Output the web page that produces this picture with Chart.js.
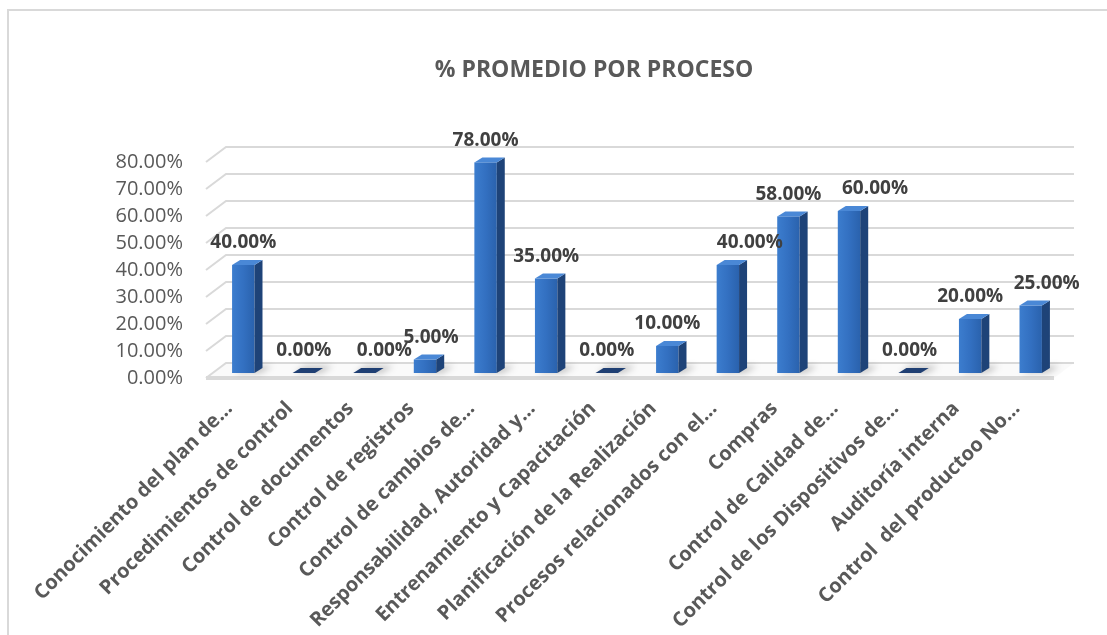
<!DOCTYPE html>
<html>
<head>
<meta charset="utf-8">
<script src="https://cdn.jsdelivr.net/npm/chart.js@4.4.1/dist/chart.umd.min.js"></script>
<style>
  html, body { margin: 0; padding: 0; background: #fff; }
  #wrap { position: relative; width: 1107px; height: 635px; }
</style>
</head>
<body>
<div id="wrap"><canvas id="chart" width="1107" height="635"></canvas></div>
<script>
const title = "% PROMEDIO POR PROCESO";

const categories = [
  "Conocimiento del plan de…",
  "Procedimientos de control",
  "Control de documentos",
  "Control de registros",
  "Control de cambios de…",
  "Responsabilidad, Autoridad y…",
  "Entrenamiento y Capacitación",
  "Planificación de la Realización",
  "Procesos relacionados con el…",
  "Compras",
  "Control de Calidad de…",
  "Control de los Dispositivos de…",
  "Auditoría interna",
  "Control  del productoo No…"
];

const values = [40, 0, 0, 5, 78, 35, 0, 10, 40, 58, 60, 0, 20, 25];

const yTicks = [0, 10, 20, 30, 40, 50, 60, 70, 80];

const pct = (v) => v.toFixed(2) + "%";

// 3d look: back wall offset and bar depth
const WALL = { dx: 13, dy: -10 };
const FRONT = { dx: -7, dy: 5 };
const BAR_DEPTH = { dx: 8, dy: -5 };
// excel moved a few labels sideways so they don't collide
const labelNudge = { 2: 20, 3: 6, 8: 22, 10: 26, 13: 16 };

const fakeThreeD = {
  id: "fakeThreeD",
  beforeDatasetsDraw(chart) {
    const { ctx, chartArea: a, scales: { y } } = chart;
    ctx.save();

    // outer frame
    ctx.strokeStyle = "#d9d9d9";
    ctx.lineWidth = 2;
    ctx.beginPath();
    ctx.moveTo(8, 640);
    ctx.lineTo(8, 10);
    ctx.lineTo(1110, 10);
    ctx.stroke();

    // title
    ctx.fillStyle = "#595959";
    ctx.font = "bold 23px 'Open Sans'";
    ctx.textAlign = "center";
    ctx.textBaseline = "middle";
    ctx.fillText(title, 594, 70);

    // wall gridlines with the little slanted side wall
    ctx.strokeStyle = "#d9d9d9";
    ctx.lineWidth = 2;
    yTicks.forEach((t) => {
      if (t === 0) return;
      const py = y.getPixelForValue(t);
      ctx.beginPath();
      ctx.moveTo(a.left + FRONT.dx, py + FRONT.dy);
      ctx.lineTo(a.left + WALL.dx, py + WALL.dy);
      ctx.lineTo(a.right + WALL.dx, py + WALL.dy);
      ctx.stroke();
    });

    // floor
    const b = y.getPixelForValue(0);
    ctx.fillStyle = "#fafafa";
    ctx.beginPath();
    ctx.moveTo(a.left + FRONT.dx, b + FRONT.dy);
    ctx.lineTo(a.right + FRONT.dx, b + FRONT.dy);
    ctx.lineTo(a.right + WALL.dx, b + WALL.dy);
    ctx.lineTo(a.left + WALL.dx, b + WALL.dy);
    ctx.closePath();
    ctx.fill();
    ctx.beginPath();
    ctx.moveTo(a.left + FRONT.dx, b + FRONT.dy);
    ctx.lineTo(a.left + WALL.dx, b + WALL.dy);
    ctx.lineTo(a.right + WALL.dx, b + WALL.dy);
    ctx.stroke();
    // floor front edge
    ctx.fillStyle = "#d9d9d9";
    ctx.beginPath();
    ctx.moveTo(a.left + FRONT.dx, b + FRONT.dy - 2);
    ctx.lineTo(a.right + FRONT.dx, b + FRONT.dy - 2);
    ctx.lineTo(a.right + FRONT.dx, b + FRONT.dy + 2);
    ctx.lineTo(a.left + FRONT.dx, b + FRONT.dy + 2);
    ctx.closePath();
    ctx.fill();
    ctx.restore();
  },
  afterDatasetsDraw(chart) {
    const { ctx } = chart;
    const meta = chart.getDatasetMeta(0);
    ctx.save();

    meta.data.forEach((el, i) => {
      const { x, y, base, width } = el.getProps(["x", "y", "base", "width"], true);
      const x0 = x - width / 2;
      const x1 = x + width / 2;
      const d = BAR_DEPTH;

      // soft shadow on the floor
      ctx.save();
      ctx.filter = "blur(3px)";
      ctx.fillStyle = "rgba(0,0,0,0.22)";
      ctx.beginPath();
      ctx.moveTo(x0 + 2, base);
      ctx.lineTo(x1 + 6, base);
      ctx.lineTo(x1 + d.dx + 10, base + d.dy - 2);
      ctx.lineTo(x0 + d.dx + 4, base + d.dy - 2);
      ctx.closePath();
      ctx.fill();
      ctx.restore();

      if (values[i] === 0) {
        // flat sliver for empty bars
        ctx.fillStyle = "#1f3f73";
        ctx.beginPath();
        ctx.moveTo(x0, base);
        ctx.lineTo(x1, base);
        ctx.lineTo(x1 + d.dx, base + d.dy);
        ctx.lineTo(x0 + d.dx, base + d.dy);
        ctx.closePath();
        ctx.fill();
        return;
      }

      // front face
      const g = ctx.createLinearGradient(x0, 0, x1, 0);
      g.addColorStop(0, "#3c7dce");
      g.addColorStop(0.5, "#3370c1");
      g.addColorStop(1, "#2a62ad");
      ctx.fillStyle = g;
      ctx.fillRect(x0, y, width, base - y);

      // side face
      ctx.fillStyle = "#1e4378";
      ctx.beginPath();
      ctx.moveTo(x1, y);
      ctx.lineTo(x1 + d.dx, y + d.dy);
      ctx.lineTo(x1 + d.dx, base + d.dy);
      ctx.lineTo(x1, base);
      ctx.closePath();
      ctx.fill();

      // top face
      ctx.fillStyle = "#4a88d6";
      ctx.beginPath();
      ctx.moveTo(x0, y);
      ctx.lineTo(x1, y);
      ctx.lineTo(x1 + d.dx, y + d.dy);
      ctx.lineTo(x0 + d.dx, y + d.dy);
      ctx.closePath();
      ctx.fill();
    });

    // value labels
    ctx.fillStyle = "#404040";
    ctx.font = "bold 19px 'Open Sans'";
    ctx.textAlign = "center";
    ctx.textBaseline = "middle";
    meta.data.forEach((el, i) => {
      const { x, y } = el.getProps(["x", "y"], true);
      ctx.fillText(pct(values[i]), x + (labelNudge[i] || 0), y - 22);
    });
    ctx.restore();
  }
};

new Chart(document.getElementById("chart"), {
  type: "bar",
  data: {
    labels: categories,
    datasets: [{
      data: values,
      backgroundColor: "rgba(0,0,0,0)",
      borderWidth: 0,
      categoryPercentage: 1,
      barPercentage: 0.37
    }]
  },
  options: {
    responsive: false,
    animation: false,
    devicePixelRatio: 1,
    layout: { padding: { top: 157, right: 46, bottom: 0, left: 0 } },
    plugins: {
      legend: { display: false },
      tooltip: { enabled: false },
      title: { display: false }
    },
    scales: {
      y: {
        min: 0,
        max: 80,
        afterBuildTicks: (s) => { s.ticks = yTicks.map((v) => ({ value: v })); },
        afterFit: (s) => { s.width = 213; },
        grid: { display: false, drawTicks: false },
        border: { display: false },
        ticks: {
          padding: 30,
          labelOffset: 5,
          color: "#595959",
          font: { family: "'Open Sans'", size: 20 },
          callback: (v) => pct(v)
        }
      },
      x: {
        afterFit: (s) => { s.height = 262; },
        grid: { display: false, drawTicks: false },
        border: { display: false },
        ticks: {
          autoSkip: false,
          minRotation: 45,
          maxRotation: 45,
          padding: 24,
          labelOffset: -14,
          color: "#595959",
          font: { family: "'Open Sans'", size: 20, weight: "bold" }
        }
      }
    }
  },
  plugins: [fakeThreeD]
});
</script>
</body>
</html>
